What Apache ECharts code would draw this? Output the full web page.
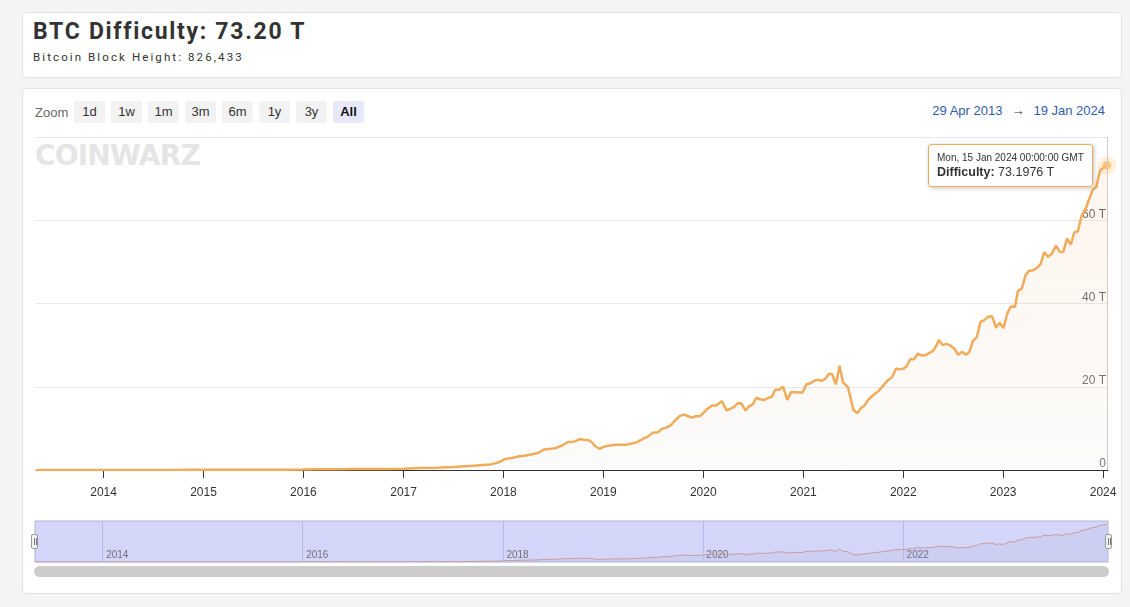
<!DOCTYPE html>
<html><head><meta charset="utf-8">
<script src="https://cdn.jsdelivr.net/npm/echarts@6/dist/echarts.min.js"></script>
<style>
html,body{margin:0;padding:0;width:1130px;height:607px;background:#f4f4f4;overflow:hidden;font-family:"Liberation Sans",Arial,sans-serif;}
.card{position:absolute;background:#fff;border:1px solid #e2e2e2;border-radius:4px;box-sizing:border-box;}
#c1{left:22px;top:12px;width:1100px;height:66px;}
#c2{left:22px;top:88px;width:1100px;height:506px;}
#title{position:absolute;left:33px;top:18px;font:bold 23px Roboto,sans-serif;color:#333;letter-spacing:1.7px;white-space:nowrap;}
#sub{position:absolute;left:33px;top:50px;font:11.5px Roboto,sans-serif;color:#333;letter-spacing:2.1px;white-space:nowrap;}
#zoomrow{position:absolute;left:35px;top:101px;height:22px;display:flex;align-items:center;font-size:13px;color:#666;}
#zoomrow .lbl{width:39px;}
#zoomrow .btn{width:31px;height:22px;line-height:22px;text-align:center;background:#f2f2f2;color:#333;margin-right:6px;border-radius:2px;}
#zoomrow .btn.sel{background:#e6e9fc;font-weight:bold;color:#111;}
#range{position:absolute;right:25px;top:103px;font-size:13px;color:#335cad;white-space:nowrap;}
#range .arr{color:#333;margin:0 9px;}
#wm{position:absolute;left:35px;top:139px;font:bold 28px "DejaVu Sans",sans-serif;color:#e5e5e5;letter-spacing:-0.8px;white-space:nowrap;}
.handle{position:absolute;top:534px;width:7px;height:15px;background:#f2f2f2;border:1px solid #999;border-radius:2px;box-sizing:border-box;}
.handle:before,.handle:after{content:"";position:absolute;top:3px;width:1px;height:7px;background:#777;}
.handle:before{left:1.5px;}.handle:after{left:3.5px;}
#scroll{position:absolute;left:34px;top:566px;width:1075px;height:11px;background:#cccccc;border-radius:6px;}
#chart{position:absolute;left:0;top:0;width:1130px;height:607px;}
</style></head>
<body>
<div class="card" id="c1"></div>
<div class="card" id="c2"></div>
<div id="title"></div>
<div id="sub"></div>
<div id="zoomrow"></div>
<div id="range"></div>
<div id="wm">COINWARZ</div>
<div id="scroll"></div>
<div id="chart"></div>
<div class="handle" style="left:31px"></div>
<div class="handle" style="left:1105px"></div>
<script>
// ---- data ----
const titleText = "BTC Difficulty: 73.20 T";
const subtitleText = "Bitcoin Block Height: 826,433";
const zoomButtons = ["1d","1w","1m","3m","6m","1y","3y","All"];
const rangeFrom = "29 Apr 2013";
const rangeTo = "19 Jan 2024";
const axisMin = "2013-04-29";
const axisMax = "2024-01-19";
const yTicks = [0, 20, 40, 60, 80];
const navYears = ["2014","2016","2018","2020","2022"];
const seriesName = "Difficulty";
const dates = [
"2013-04-29","2013-06-01","2013-08-01","2013-10-01","2013-12-01",
"2014-01-01","2014-03-01","2014-05-01","2014-07-01","2014-09-01","2014-11-01",
"2015-01-01","2015-03-01","2015-05-01","2015-07-01","2015-09-01","2015-11-01",
"2016-01-01","2016-03-01","2016-05-01","2016-07-01","2016-09-01","2016-11-01",
"2017-01-01","2017-03-01","2017-05-01","2017-07-01","2017-08-15","2017-09-15","2017-10-15","2017-11-15","2017-12-01","2017-12-18",
"2018-01-05","2018-02-01","2018-03-01","2018-03-25","2018-04-20","2018-05-10","2018-05-30","2018-06-25","2018-07-15","2018-08-05","2018-08-25","2018-09-15","2018-10-10","2018-10-25","2018-11-08","2018-11-20","2018-12-03","2018-12-18",
"2019-01-05","2019-01-25","2019-02-15","2019-03-05","2019-03-25","2019-04-15","2019-05-05","2019-05-25","2019-06-10","2019-07-01","2019-07-20","2019-08-05","2019-08-20","2019-09-05","2019-09-20","2019-10-08","2019-10-22","2019-11-05","2019-11-20","2019-12-05","2019-12-20",
"2020-01-03","2020-01-18","2020-02-02","2020-02-18","2020-03-09","2020-03-26","2020-04-08","2020-04-22","2020-05-07","2020-05-20","2020-06-04","2020-06-16","2020-07-01","2020-07-13","2020-07-27","2020-08-10","2020-08-24","2020-09-08","2020-09-20","2020-10-04","2020-10-19","2020-11-03","2020-11-17","2020-12-01","2020-12-15","2020-12-29",
"2021-01-12","2021-01-25","2021-02-08","2021-02-22","2021-03-08","2021-03-22","2021-04-05","2021-04-16","2021-04-30","2021-05-13","2021-05-26","2021-06-13","2021-07-03","2021-07-17","2021-07-31","2021-08-13","2021-08-25","2021-09-07","2021-09-20","2021-10-03","2021-10-15","2021-10-27","2021-11-08","2021-11-21","2021-12-05","2021-12-18",
"2022-01-01","2022-01-14","2022-01-26","2022-02-09","2022-02-24","2022-03-10","2022-03-25","2022-04-08","2022-04-20","2022-05-01","2022-05-11","2022-05-25","2022-06-08","2022-06-22","2022-07-06","2022-07-21","2022-08-04","2022-08-18","2022-08-31","2022-09-12","2022-09-27","2022-10-10","2022-10-24","2022-11-07","2022-11-21","2022-12-06","2022-12-19",
"2023-01-02","2023-01-16","2023-01-29","2023-02-13","2023-02-24","2023-03-10","2023-03-24","2023-04-06","2023-04-20","2023-05-04","2023-05-18","2023-05-31","2023-06-14","2023-06-28","2023-07-13","2023-07-27","2023-08-09","2023-08-22","2023-09-05","2023-09-18","2023-10-01","2023-10-14","2023-10-28","2023-11-09","2023-11-24","2023-12-07","2023-12-21",
"2024-01-15"
];
const difficultyT = [
0.00001,0.00001,0.00003,0.0002,0.0007,
0.0014,0.004,0.008,0.017,0.027,0.040,
0.040,0.047,0.047,0.050,0.056,0.065,
0.103,0.158,0.178,0.214,0.220,0.254,
0.317,0.460,0.521,0.708,0.888,1.000,1.196,1.347,1.590,1.931,
2.603,2.874,3.290,3.462,3.839,4.143,4.940,5.077,5.363,5.949,6.727,6.800,7.454,7.184,7.183,6.653,5.646,5.107,
5.618,5.883,6.068,6.071,6.072,6.380,6.705,7.460,7.934,8.956,9.064,9.986,10.183,10.771,11.890,13.011,13.300,12.973,12.600,12.900,12.900,
13.800,14.800,15.500,15.500,16.550,14.300,14.700,15.100,16.100,15.900,14.300,15.300,15.800,17.350,17.000,16.800,17.300,17.600,19.300,19.300,19.990,16.850,18.700,18.670,18.600,18.600,
20.600,20.800,21.400,21.700,21.400,21.900,23.100,23.000,20.600,25.050,21.000,19.900,14.360,13.670,14.900,15.560,16.800,17.600,18.400,19.000,19.900,20.800,21.700,22.300,24.300,24.200,
24.300,25.000,26.600,26.600,27.970,27.500,27.600,28.200,28.600,29.800,31.250,30.000,30.300,29.900,29.200,27.700,28.400,27.700,28.400,30.980,32.000,35.600,36.000,36.800,36.950,34.240,35.360,
34.090,37.590,39.350,39.160,43.050,43.550,46.840,47.890,48.000,48.500,49.500,52.350,51.200,52.000,53.910,52.390,52.390,55.620,54.150,57.120,57.320,61.030,62.460,64.680,67.300,67.960,72.000,
73.1976
];

// ---- html text ----
document.getElementById('title').textContent = titleText;
document.getElementById('sub').textContent = subtitleText;
const zr = document.getElementById('zoomrow');
zr.innerHTML = '<span class="lbl">Zoom</span>' + zoomButtons.map((b,i)=>'<span class="btn'+(i===zoomButtons.length-1?' sel':'')+'">'+b+'</span>').join('');
document.getElementById('range').innerHTML = rangeFrom + '<span class="arr">&rarr;</span>' + rangeTo;

// ---- chart ----
const points = dates.map((d,i)=>[+new Date(d), difficultyT[i]]);
const last = points.length - 1;
const DAY = 24*3600*1000;
const orange = '#f0ab5b';
const navTs = navYears.map(y=>+new Date(y+'-01-01'));
const chart = echarts.init(document.getElementById('chart'), null, {renderer:'canvas'});
chart.setOption({
  animation:false,
  textStyle:{fontFamily:'"Liberation Sans", Arial, sans-serif'},
  grid:[
    {left:36,right:22,top:137,bottom:137},
    {left:35,right:22,top:521,height:41,show:true,backgroundColor:'#d3d6f9',borderColor:'#aeb2d6',borderWidth:1}
  ],
  xAxis:[
    {type:'time',gridIndex:0,min:+new Date(axisMin),max:+new Date(axisMax),minInterval:360*DAY,maxInterval:370*DAY,
     axisLine:{lineStyle:{color:'#333',width:1}},
     axisTick:{length:8,lineStyle:{color:'#333'}},
     axisLabel:{formatter:'{yyyy}',color:'#333',fontSize:12,margin:17,showMinLabel:false},
     splitLine:{show:false}},
    {type:'time',gridIndex:1,min:+new Date(axisMin),max:+new Date(axisMax),
     axisLine:{show:false},axisTick:{show:false},axisPointer:{show:false},
     axisLabel:{show:false},splitLine:{show:false}}
  ],
  yAxis:[
    {type:'value',gridIndex:0,position:'right',min:yTicks[0],max:yTicks[yTicks.length-1],interval:yTicks[1]-yTicks[0],
     axisLine:{show:false},axisTick:{show:false},
     axisLabel:{inside:true,verticalAlign:'bottom',color:'#555',fontSize:12,margin:2,
       formatter:v=> v===0?'0':(v===yTicks[yTicks.length-1]?'':v+' T')},
     splitLine:{lineStyle:{color:'#e6e6e6'}}},
    {type:'value',gridIndex:1,min:yTicks[0],max:yTicks[yTicks.length-1],show:false}
  ],
  tooltip:{
    trigger:'axis',triggerOn:'none',alwaysShowContent:true,
    axisPointer:{type:'line',lineStyle:{color:'#cccccc',width:1,type:'solid'}},
    backgroundColor:'rgba(255,255,255,0.96)',borderColor:orange,borderWidth:1,borderRadius:3,
    padding:[6,8,6,8],
    extraCssText:'box-shadow:1px 1px 4px rgba(0,0,0,0.25);',
    textStyle:{color:'#333',fontFamily:'"Liberation Sans", Arial, sans-serif'},
    position:function(pt,params,dom,rect,size){return [pt[0]-size.contentSize[0]-14, pt[1]-size.contentSize[1]/2];},
    formatter:function(ps){
      const p = ps[0];
      const d = new Date(p.value[0]).toUTCString();
      return '<div style="font-size:10px;line-height:13px;color:#333">'+d+'</div>'+
             '<div style="font-size:12.5px;line-height:16px;color:#333"><b>'+seriesName+':</b> '+p.value[1].toFixed(4)+' T</div>';
    }
  },
  series:[
    {name:seriesName,type:'line',xAxisIndex:0,yAxisIndex:0,data:points,showSymbol:false,symbol:'none',
     lineStyle:{color:orange,width:2.5},
     areaStyle:{color:new echarts.graphic.LinearGradient(0,0,0,1,[{offset:0,color:'rgba(248,200,150,0.22)'},{offset:1,color:'rgba(238,238,238,0.35)'}])},
     emphasis:{disabled:true},z:3},
    {type:'scatter',xAxisIndex:0,yAxisIndex:0,data:[points[last]],symbolSize:17,itemStyle:{color:'rgba(240,171,91,0.28)'},silent:true,z:4},
    {type:'scatter',xAxisIndex:0,yAxisIndex:0,data:[points[last]],symbolSize:8,itemStyle:{color:orange},silent:true,z:5},
    {type:'line',xAxisIndex:1,yAxisIndex:1,data:points,showSymbol:false,symbol:'none',silent:true,
     lineStyle:{color:'#c99c9f',width:1},areaStyle:{color:'rgba(150,140,190,0.15)'},
     markLine:{silent:true,symbol:['none','none'],label:{show:false},
       lineStyle:{color:'#b7bbe4',type:'solid',width:1},
       data:navTs.map(t=>({xAxis:t}))}},
    {type:'scatter',xAxisIndex:1,yAxisIndex:1,silent:true,symbolSize:1,itemStyle:{color:'rgba(0,0,0,0)'},
     data:navTs.map((t,i)=>({value:[t,0],name:navYears[i]})),
     label:{show:true,position:'right',distance:3,offset:[0,-7],formatter:'{b}',color:'#555',fontSize:10}}
  ]
});
chart.dispatchAction({type:'showTip',seriesIndex:0,dataIndex:last});
</script>
</body></html>
